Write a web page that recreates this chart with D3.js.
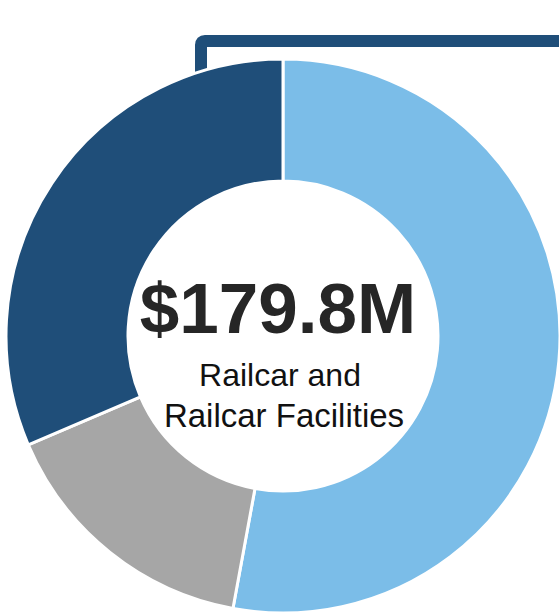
<!DOCTYPE html>
<html><head><meta charset="utf-8">
<script src="https://cdn.jsdelivr.net/npm/d3@7"></script>
<style>body{margin:0;background:#fff}svg{display:block}</style>
</head><body>
<script>
const categories = ["Railcar", "Railcar Facilities", "Other"];
const values = [95.1, 28.2, 56.5];
const colors = ["#7BBDE8", "#A6A6A6", "#1F4E79"];
const totalLabel = "$179.8M";
const subLabel = ["Railcar and", "Railcar Facilities"];

const W = 559, H = 615;
const svg = d3.select("body").append("svg").attr("width", W).attr("height", H);

// bracket
svg.append("path")
  .attr("d", "M201,120 L201,45 Q201,41 205,41 L570,41")
  .attr("fill", "none").attr("stroke", "#1F4E79").attr("stroke-width", 12);

const cx = 283, cy = 336, rO = 277, rI = 155;
const pie = d3.pie().sort(null).value(d => d);
const arc = d3.arc().innerRadius(rI).outerRadius(rO);
const g = svg.append("g").attr("transform", `translate(${cx},${cy})`);
g.selectAll("path").data(pie(values)).join("path")
  .attr("d", arc).attr("fill", (d, i) => colors[i])
  .attr("stroke", "#fff").attr("stroke-width", 3);

g.append("text").attr("text-anchor", "middle").attr("x", -5).attr("y", -3)
  .attr("font-family", "Liberation Sans, Arial, sans-serif")
  .attr("font-weight", "bold").attr("font-size", 71).attr("fill", "#262626")
  .text(totalLabel);
g.selectAll("text.sub").data(subLabel).join("text").attr("class", "sub")
  .attr("text-anchor", "middle").attr("x", (d, i) => i ? 1 : -3).attr("y", (d, i) => 50 + i * 41)
  .attr("font-family", "Liberation Sans, Arial, sans-serif")
  .attr("font-size", (d, i) => i ? 33 : 32).attr("fill", "#111")
  .text(d => d);
</script>
</body></html>
